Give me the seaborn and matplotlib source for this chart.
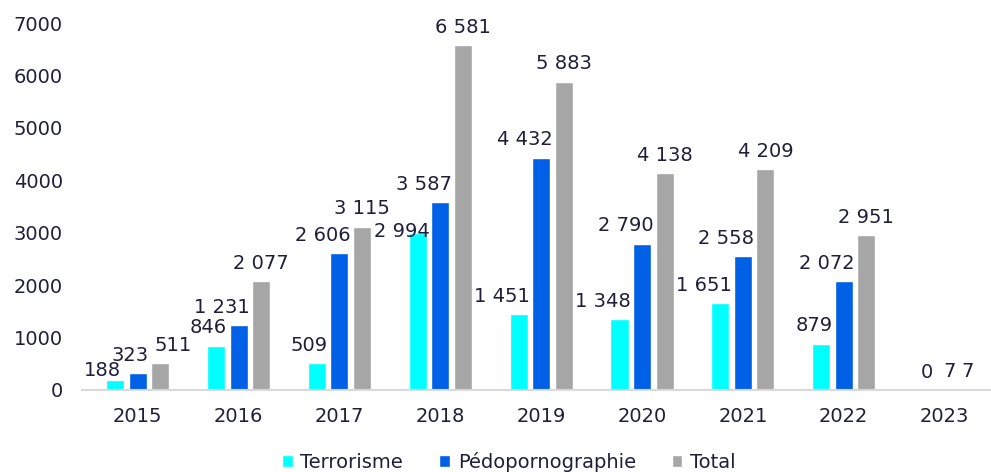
import pandas as pd
import seaborn as sns
import matplotlib.pyplot as plt

years = ['2015', '2016', '2017', '2018', '2019', '2020', '2021', '2022', '2023']
terrorisme = [188, 846, 509, 2994, 1451, 1348, 1651, 879, 0]
pedo = [323, 1231, 2606, 3587, 4432, 2790, 2558, 2072, 7]
total = [511, 2077, 3115, 6581, 5883, 4138, 4209, 2951, 7]
series = ['Terrorisme', 'Pédopornographie', 'Total']
colors = ['#00FFFF', '#0060E6', '#A6A6A6']
text_col = '#1F1F3A'

df = pd.DataFrame({'Année': years * 3,
                   'Valeur': terrorisme + pedo + total,
                   'Série': [s for s in series for _ in years]})

sns.set_style('white')
plt.rcParams['font.family'] = ['DejaVu Sans']

fig = plt.figure(figsize=(9.91, 4.72), dpi=100)
ax = fig.add_axes([0.083, 0.174, 0.916, 0.777])
sns.barplot(data=df, x='Année', y='Valeur', hue='Série', palette=colors,
            width=0.67, gap=0.2, ax=ax, saturation=1)

# data labels: first two series right-aligned on the bar, totals centred
# a few labels were nudged by hand in the original
nudge = {(0, 0): (-2, 0), (2, 0): (9, 6), (0, 3): (2, -6)}
for i, (cont, vals) in enumerate(zip(ax.containers, [terrorisme, pedo, total])):
    for j, (bar, v) in enumerate(zip(cont, vals)):
        lab = f'{v:,}'.replace(',', ' ')
        if i < 2:
            x = bar.get_x() + bar.get_width()
            ha, dx, dy = 'right', 1.5, 6
        else:
            x = bar.get_x() + bar.get_width() / 2
            ha, dx, dy = 'center', 0, 6
        dx, dy = nudge.get((i, j), (dx, dy))
        ax.annotate(lab, (x, bar.get_height()), xytext=(dx, dy),
                    textcoords='offset points', ha=ha, va='bottom',
                    fontsize=14, color=text_col)

ax.set_ylim(0, 7000)
ax.set_xlim(-0.55, 8.45)
ax.set_yticks(range(0, 7001, 1000))
ax.set_xlabel('')
ax.set_ylabel('')
ax.tick_params(axis='both', labelsize=14, colors=text_col, length=0)
ax.tick_params(axis='x', pad=12)
ax.tick_params(axis='y', pad=14)
for s in ['top', 'right', 'left']:
    ax.spines[s].set_visible(False)
ax.spines['bottom'].set_color('#D9D9D9')
ax.spines['bottom'].set_linewidth(1.5)

leg = ax.legend(loc='lower center', bbox_to_anchor=(0.47, -0.272), ncol=3,
                frameon=False, fontsize=14, handlelength=0.55, handleheight=0.55,
                handletextpad=0.4, columnspacing=1.85)
for t in leg.get_texts():
    t.set_color(text_col)

fig.savefig('out.png', dpi=100)
